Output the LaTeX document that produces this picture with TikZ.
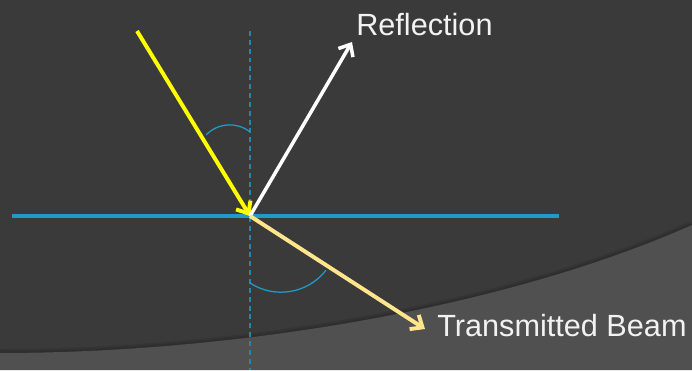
\documentclass[tikz,border=0pt]{standalone}
\usepackage{fontspec}
\setmainfont{Liberation Sans}
\usetikzlibrary{arrows.meta}
\definecolor{bgdark}{HTML}{3A3A3A}
\definecolor{bglight}{HTML}{505050}
\definecolor{surface}{HTML}{1E9BC8}
\definecolor{normline}{HTML}{1E88AE}
\definecolor{beamin}{HTML}{FFFF00}
\definecolor{beamout}{HTML}{FFE68C}
\definecolor{labeltext}{HTML}{F2F2F2}

\begin{document}
\begin{tikzpicture}[
			x=0.025cm, y=0.025cm,
			ray/.style={line width=2.8pt, -{Straight Barb[length=7pt,width=12pt]}},
			normal/.style={normline, line width=1.3pt, dash pattern=on 3.5pt off 2.8pt},
			anglemark/.style={surface, line width=0.9pt},
			shade/.style={black, line width=#1, opacity=0.07},
			every node/.style={font=\fontsize{21.8}{26}\selectfont, text=labeltext, inner sep=0pt}
			]
			
			% background
			\useasboundingbox (0,0) rectangle (692,370);
			\clip (0,0) rectangle (692,370);
			\fill[bgdark] (0,0) rectangle (692,370);
			\foreach \w in {2pt,4pt,6pt}
				\draw[shade=\w] (0,17) .. controls (230,17) and (500,60) .. (692,145);
			\fill[bglight] (0,0) -- (0,17) .. controls (230,17) and (500,60) .. (692,145) -- (692,0) -- cycle;
			
			\coordinate (hit) at (250,154);
			\coordinate (src) at (137,339);
			\coordinate (reflEnd) at (352,328);
			\coordinate (transEnd) at (425,41);
			\coordinate (normTop) at (250,339);
			\coordinate (normBot) at (250,0);
			\coordinate (surfL) at (12,154);
			\coordinate (surfR) at (559,154);
			
			\node[anchor=base west] (refl) at (356,334) {Reflection};
			\node[anchor=base west] (trans) at (437,34) {Transmitted Beam};
			
			\draw[normal] (normTop) -- (normBot);
			\draw[surface, line width=3.5pt] (surfL) -- (surfR);
			
			\draw[anglemark] (206,235) arc[start angle=136, end angle=52, radius=33];
			\draw[anglemark] (250,87) arc[start angle=-123, end angle=-38, radius=57];
			
			\draw[ray, beamin] (src) -- (hit);
			\draw[ray, white, line width=2.5pt] (hit) -- (reflEnd);
			\draw[ray, beamout] (hit) -- (transEnd);
		\end{tikzpicture}
\end{document}
